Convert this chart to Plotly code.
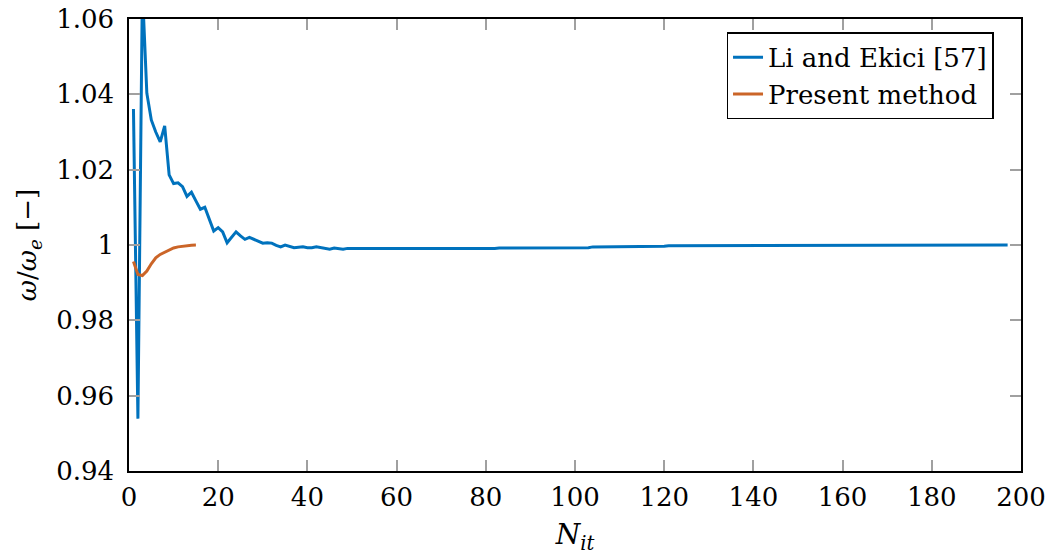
import plotly.graph_objects as go

# Li and Ekici [57]
li_x = list(range(1, 63)) + [70, 82, 83, 93, 94, 103, 104, 116, 117, 120, 121, 149, 150, 197]
li_y = [1.0361, 0.9539, 1.0680, 1.0403, 1.0332, 1.0300, 1.0274, 1.0316, 1.0186, 1.0163,
        1.0165, 1.0155, 1.0129, 1.0140, 1.0117, 1.0095, 1.0100, 1.0069, 1.0037, 1.0046,
        1.0035, 1.0006, 1.0021, 1.0035, 1.0024, 1.0015, 1.0020, 1.0015, 1.0009, 1.0005,
        1.0006, 1.0005, 0.9999, 0.9995, 1.0000, 0.9996, 0.9993, 0.9994, 0.9995, 0.9993,
        0.9993, 0.9995, 0.9993, 0.9991, 0.9989, 0.9992, 0.9991, 0.9989, 0.9991, 0.9991,
        0.9989, 0.9991, 0.9990, 0.9991, 0.9990, 0.9989, 0.9991, 0.9989, 0.9990, 0.9990,
        0.9991, 0.9991,
        0.9991, 0.9991, 0.9992, 0.9992, 0.9993, 0.9993, 0.9995, 0.9995, 0.9997, 0.9997,
        0.9998, 0.9998, 1.0000, 1.0000]

# Present method
pm_x = list(range(1, 16))
pm_y = [0.9956, 0.9922, 0.9919, 0.9931, 0.9950, 0.9966, 0.9975, 0.9981, 0.9987, 0.9992,
        0.9995, 0.9997, 0.9999, 0.99995, 1.0000]

x_ticks = list(range(0, 201, 20))
y_ticks = [0.94, 0.96, 0.98, 1.0, 1.02, 1.04, 1.06]
y_tick_text = ["0.94", "0.96", "0.98", "1", "1.02", "1.04", "1.06"]

FONT = "DejaVu Serif"

fig = go.Figure()
fig.add_trace(go.Scatter(x=li_x, y=li_y, mode="lines", name="Li and Ekici [57]",
                         line=dict(color="#0072BD", width=3)))
fig.add_trace(go.Scatter(x=pm_x, y=pm_y, mode="lines", name="Present method",
                         line=dict(color="#CB6528", width=3)))

axis_common = dict(
    showline=True, linecolor="black", linewidth=1.5, mirror="ticks",
    ticks="inside", ticklen=11, tickcolor="#a0a0a0", tickwidth=1.5,
    showgrid=False, zeroline=False, automargin=False,
    tickfont=dict(family=FONT, size=26, color="black"),
)

fig.update_layout(
    width=1051, height=555,
    margin=dict(l=129, r=29.5, t=19, b=84.4),
    paper_bgcolor="white", plot_bgcolor="white",
    font=dict(family=FONT, size=26, color="black"),
    xaxis=dict(range=[0, 200], tickvals=x_ticks, ticklabelstandoff=2,
               title=dict(text="<i>N<sub>it</sub></i>", font=dict(family=FONT, size=28),
                          standoff=26),
               **axis_common),
    yaxis=dict(range=[0.94, 1.06], tickvals=y_ticks, ticktext=y_tick_text,
               ticklabelstandoff=8,
               title=dict(text="<i>ω</i>/<i>ω<sub>e</sub></i> [−]",
                          font=dict(family=FONT, size=26), standoff=12),
               **axis_common),
    legend=dict(x=0.9692, y=0.9706, xanchor="right", yanchor="top",
                bgcolor="white", bordercolor="black", borderwidth=1.5,
                font=dict(family=FONT, size=26), itemwidth=30,
                tracegroupgap=0),
    showlegend=True,
)

fig.write_html("out.html")
